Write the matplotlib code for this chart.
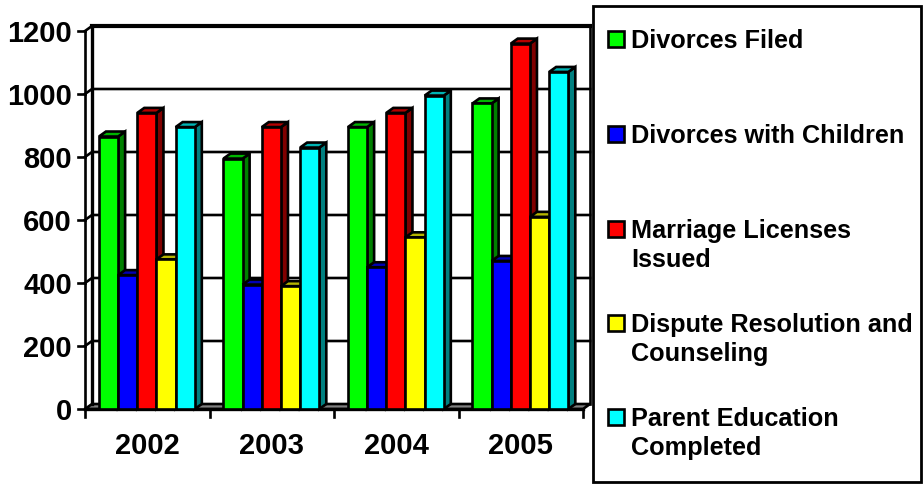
import matplotlib
matplotlib.use("Agg")
import matplotlib.pyplot as plt
from matplotlib.patches import Polygon, Rectangle

plt.rcParams["font.family"] = ["Liberation Sans", "DejaVu Sans"]

# Dados
anos = ["2002", "2003", "2004", "2005"]
divorces_filed = [865, 795, 895, 970]
divorces_children = [425, 395, 450, 470]
marriage_licenses = [940, 895, 940, 1160]
dispute_resolution = [475, 390, 545, 610]
parent_education = [895, 830, 995, 1070]
y_ticks = [0, 200, 400, 600, 800, 1000, 1200]
legend_labels = ["Divorces Filed", "Divorces with Children", "Marriage Licenses\nIssued",
                 "Dispute Resolution and\nCounseling", "Parent Education\nCompleted"]

series = [divorces_filed, divorces_children, marriage_licenses, dispute_resolution, parent_education]
front_cores = ["#00FF00", "#0000FF", "#FF0000", "#FFFF00", "#00FFFF"]
top_cores = ["#00B400", "#0000B4", "#B40000", "#B4B400", "#00B4B4"]
side_cores = ["#008000", "#000080", "#800000", "#808000", "#008080"]

W, H = 924, 485
fig = plt.figure(figsize=(W / 100, H / 100), dpi=100)

# Eixo frontal em pixels da figura
x0, x1, y0, y1 = 85, 583, 410, 32
ax = fig.add_axes([x0 / W, 1 - y0 / H, (x1 - x0) / W, (y0 - y1) / H])
ax.set_xlim(0, 4)
ax.set_ylim(0, 1200)
ax.axis("off")

dx = 7 * 4 / (x1 - x0)  # profundidade em unidades de dados
dy = 5 * 1200 / (y0 - y1)
lw = 1.9

# Piso cinza
ax.add_patch(Polygon([(0, 0), (4, 0), (4 + dx, dy), (dx, dy)], closed=True, facecolor="#808080",
                     edgecolor="black", lw=lw, clip_on=False, zorder=1))
# Parede lateral e linhas de grade
for v in y_ticks[1:]:
    ax.plot([0, dx, 4 + dx], [v, v + dy, v + dy], color="black", lw=lw, clip_on=False, zorder=1,
            solid_joinstyle="miter")
ax.plot([0, 0], [0, 1200], color="black", lw=lw, clip_on=False, zorder=2)
ax.plot([dx, dx], [dy, 1200 + dy], color="black", lw=2.4, clip_on=False, zorder=2)
ax.plot([dx, 4 + dx], [1200 + dy, 1200 + dy], color="black", lw=3, clip_on=False, zorder=2)
ax.plot([4 + dx, 4 + dx], [dy, 1200 + dy], color="black", lw=lw, clip_on=False, zorder=2)
ax.plot([0, 4], [0, 0], color="black", lw=2.4, clip_on=False, zorder=2)

# Marcas dos eixos
for v in y_ticks:
    ax.plot([-7 * 4 / (x1 - x0), 0], [v, v], color="black", lw=lw, clip_on=False, zorder=2)
    ax.text(-13 * 4 / (x1 - x0), v - 5, str(v), ha="right", va="center", fontsize=21, fontweight="bold")
for i in range(5):
    ax.plot([i, i], [0, -25], color="black", lw=lw, clip_on=False, zorder=2)
for i, ano in enumerate(anos):
    ax.text(i + 0.5, -113, ano, ha="center", va="center", fontsize=21, fontweight="bold")

# Barras 3D
bar_w = 0.154
start = 0.112
z = 3
for g in range(len(anos)):
    for s, valores in enumerate(series):
        v = valores[g]
        left = g + start + s * bar_w
        right = left + bar_w
        ax.add_patch(Polygon([(right, 0), (right + dx, dy), (right + dx, v + dy), (right, v)], closed=True,
                             facecolor=side_cores[s], edgecolor="black", lw=lw, clip_on=False, zorder=z))
        ax.add_patch(Polygon([(left, v), (right, v), (right + dx, v + dy), (left + dx, v + dy)], closed=True,
                             facecolor=top_cores[s], edgecolor="black", lw=lw, clip_on=False, zorder=z))
        ax.add_patch(Rectangle((left, 0), bar_w, v, facecolor=front_cores[s], edgecolor="black", lw=lw,
                               clip_on=False, zorder=z + 1))
        z += 2

# Legenda
fig.add_artist(Rectangle((593 / W, 1 - 483 / H), 328 / W, 476 / H, transform=fig.transFigure,
                         facecolor="white", edgecolor="black", lw=2))
legend_y = [40, 135, 230, 324, 418]
for label, cor, ly in zip(legend_labels, front_cores, legend_y):
    fig.add_artist(Rectangle((608 / W, 1 - (ly + 8) / H), 16 / W, 16 / H, transform=fig.transFigure,
                             facecolor=cor, edgecolor="black", lw=1.9))
    fig.text(631 / W, 1 - (ly - 11) / H, label, ha="left", va="top", fontsize=18.2, fontweight="bold",
             linespacing=1.28)

fig.savefig("out.png", dpi=100)
plt.close()
